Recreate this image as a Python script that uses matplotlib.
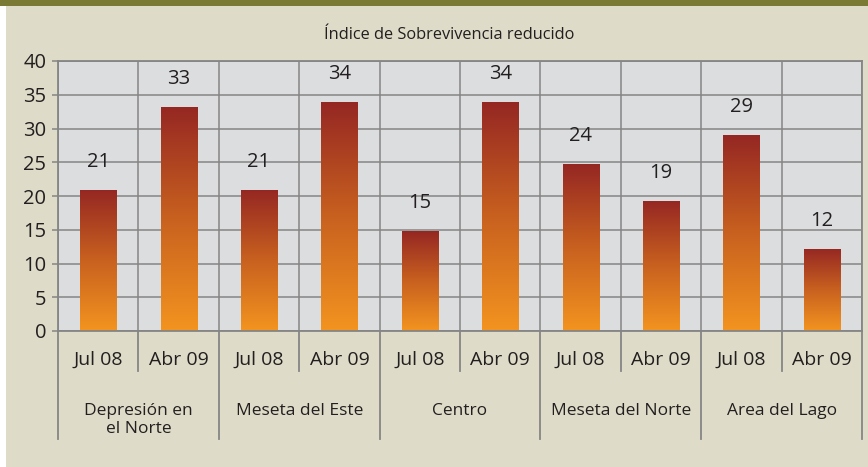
import numpy as np
import matplotlib
matplotlib.use('Agg')
import matplotlib.pyplot as plt
from matplotlib.colors import LinearSegmentedColormap
from matplotlib.patches import Rectangle
from matplotlib import transforms

# Data
TITLE = 'Índice de Sobrevivencia reducido'
REGIONS = ['Depresión en\nel Norte', 'Meseta del Este', 'Centro',
           'Meseta del Norte', 'Area del Lago']
PERIODS = ['Jul 08', 'Abr 09']
VALUES = [20.9, 33.2, 20.9, 33.9, 14.8, 33.9, 24.7, 19.3, 29.0, 12.2]
VALUE_LABELS = ['21', '33', '21', '34', '15', '34', '24', '19', '29', '12']
Y_TICKS = [0, 5, 10, 15, 20, 25, 30, 35, 40]

TEXT = '#231f20'
GRID = '#858585'
BEIGE = '#dedcc8'
PLOT_BG = '#dcdddf'
OLIVE = '#7a7a34'

plt.rcParams['font.family'] = ['Open Sans', 'DejaVu Sans']


def main():
    fig = plt.figure(figsize=(8.68, 4.67), dpi=100, facecolor='white')

    # beige panel with olive band on top
    fig.patches.append(Rectangle((6 / 868, 0), 1, 1, transform=fig.transFigure,
                                 facecolor=BEIGE, edgecolor='none', zorder=-10))
    fig.patches.append(Rectangle((0, 1 - 6 / 467), 1, 6 / 467, transform=fig.transFigure,
                                 facecolor=OLIVE, edgecolor='none', zorder=-9))

    ax = fig.add_axes([58 / 868, 1 - 331 / 467, (862 - 58) / 868, (331 - 61) / 467])
    ax.set_facecolor(PLOT_BG)

    n = len(VALUES)
    x = np.arange(n)
    bars = ax.bar(x, VALUES, width=0.45, color='none', edgecolor='none', zorder=2)

    cmap = LinearSegmentedColormap.from_list('bar', ['#f39420', '#c8611f', '#952723'])
    grad = np.linspace(0, 1, 256).reshape(-1, 1)
    for b in bars:
        x0 = b.get_x()
        im = ax.imshow(grad, cmap=cmap, origin='lower', aspect='auto',
                       extent=[x0, x0 + b.get_width(), 0, b.get_height()], zorder=2)
        im.set_clip_path(b)

    for xi, v, lab in zip(x, VALUES, VALUE_LABELS):
        ax.annotate(lab, (xi, v), xytext=(0, 20), textcoords='offset points',
                    ha='center', va='center', fontsize=14.5, color=TEXT)

    ax.set_xlim(-0.5, n - 0.5)
    ax.set_ylim(0, 40)
    ax.set_yticks(Y_TICKS)
    ax.set_xticks([])
    ax.set_xticks(np.arange(-0.5, n, 1), minor=True)
    ax.tick_params(axis='x', which='both', length=0, labelbottom=False)
    ax.tick_params(axis='y', length=4.5, width=1.1, color=GRID, pad=4,
                   labelsize=14.5, labelcolor=TEXT)
    ax.grid(True, which='major', axis='y', color=GRID, linewidth=1.1, zorder=1)
    ax.grid(True, which='minor', axis='x', color=GRID, linewidth=1.1, zorder=1)
    ax.set_axisbelow(True)
    for s in ax.spines.values():
        s.set_color(GRID)
        s.set_linewidth(1.3)

    # two-level category axis
    trans = transforms.blended_transform_factory(ax.transData, ax.transAxes)
    h = 270.0
    for i in range(n):
        ax.text(i, -29 / h, PERIODS[i % 2], transform=trans, ha='center',
                va='center', fontsize=14, color=TEXT)
    for b in np.arange(-0.5, n, 1):
        k = int(b + 0.5)
        ybot = -108 / h if k % 2 == 0 else -40 / h
        ax.plot([b, b], [0, ybot], transform=trans, color=GRID, linewidth=1.3,
                clip_on=False)
    for g, name in enumerate(REGIONS):
        ax.text(2 * g + 0.5, -72 / h, name, transform=trans, ha='center',
                va='top', fontsize=12.5, color=TEXT, linespacing=1.15)

    fig.text(449 / 868, 1 - 35 / 467, TITLE, ha='center', va='center',
             fontsize=11.8, color=TEXT)

    fig.savefig('out.png', dpi=100, facecolor=fig.get_facecolor())


if __name__ == '__main__':
    main()
